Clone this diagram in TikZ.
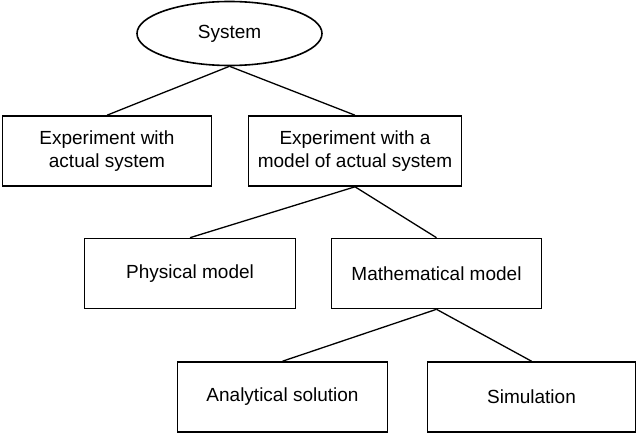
\documentclass[tikz,border=0pt]{standalone}
\usepackage{fontspec}
\setmainfont{Liberation Sans}
\usetikzlibrary{shapes.geometric}
\begin{document}
\begin{tikzpicture}[x=1pt,y=-1pt,
  every node/.style={font=\fontsize{19}{23.5}\selectfont, inner sep=0pt, align=center},
  boxnode/.style={draw, line width=1.6pt, minimum height=70pt},
  ovalnode/.style={draw, ellipse, line width=1.6pt, minimum width=185pt, minimum height=64pt},
  link/.style={line width=1.3pt}]
\useasboundingbox (0,0) rectangle (637,433);
\node[ovalnode] (sys) at (229.5,33.5) {System};
\node[boxnode, minimum width=209pt] (b1) at (107,151) {Experiment with\\actual system};
\node[boxnode, minimum width=213pt] (b2) at (355,151) {Experiment with a\\model of actual system};
\node[boxnode, minimum width=211pt, minimum height=70pt] (b3) at (190,273.5) {Physical model};
\node[boxnode, minimum width=210pt, minimum height=70pt] (b4) at (436.5,273.5) {Mathematical model};
\node[boxnode, minimum width=210pt] (b5) at (282.5,397) {Analytical solution};
\node[boxnode, minimum width=208pt] (b6) at (531.5,397) {Simulation};
\draw[link] (sys.south) -- (b1.north);
\draw[link] (sys.south) -- (b2.north);
\draw[link] (b2.south) -- (b3.north);
\draw[link] (b2.south) -- (b4.north);
\draw[link] (b4.south) -- (b5.north);
\draw[link] (b4.south) -- (b6.north);
\end{tikzpicture}
\end{document}
